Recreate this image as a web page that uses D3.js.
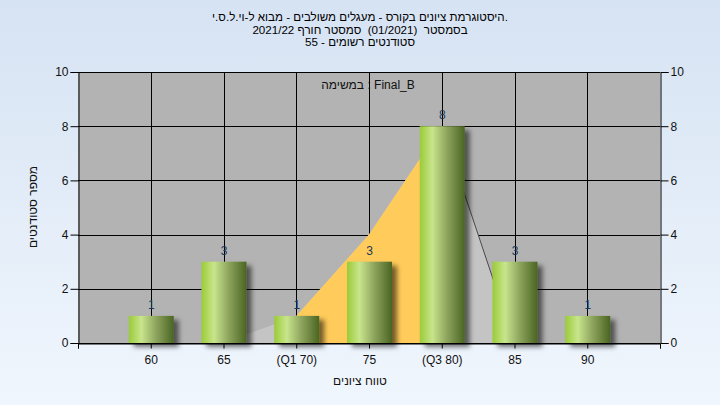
<!DOCTYPE html>
<html>
<head>
<meta charset="utf-8">
<script src="https://cdn.jsdelivr.net/npm/d3@7"></script>
<style>
  html, body { margin: 0; padding: 0; }
  body { width: 720px; height: 405px; overflow: hidden; }
  svg { display: block; }
  text { font-family: "Liberation Sans", Arial, sans-serif; white-space: pre; }
</style>
</head>
<body>
<svg id="chart" width="720" height="405"></svg>
<script>
// ---- data ----
const titleLines = [
  "היסטוגרמת ציונים בקורס - מעגלים משולבים - מבוא ל-וי.ל.ס.י.",
  "בסמסטר  (01/2021)  סמסטר חורף 2021/22",
  "סטודנטים רשומים - 55"
];
const legendLabel = "במשימה : Final_B";
const xTitle = "טווח ציונים";
const yTitle = "מספר סטודנטים";
const categories = ["60", "65", "(Q1 70)", "75", "(Q3 80)", "85", "90"];
const counts = [1, 3, 1, 3, 8, 3, 1];
const curveValues = [0, 0, 1, 4, 8, 0, 0];
const yTicks = [0, 2, 4, 6, 8, 10];
const q1Index = 2;
const q3Index = 4;

// ---- layout ----
const W = 720, H = 405;
const pLeft = 78, pRight = 660, pTop = 72, pBottom = 343;

const svg = d3.select("#chart");
const defs = svg.append("defs");

const bg = defs.append("linearGradient").attr("id", "bgGrad")
  .attr("x1", 0).attr("y1", 0).attr("x2", 0).attr("y2", 1);
bg.append("stop").attr("offset", "0%").attr("stop-color", "#d6e3f3");
bg.append("stop").attr("offset", "100%").attr("stop-color", "#f0f6fd");

const barGrad = defs.append("linearGradient").attr("id", "barGrad")
  .attr("x1", 0).attr("y1", 0).attr("x2", 1).attr("y2", 0);
[["0%", "#9acb38"], ["28%", "#c8e58c"], ["60%", "#8ea55e"], ["100%", "#4a6522"]]
  .forEach(([o, c]) => barGrad.append("stop").attr("offset", o).attr("stop-color", c));

const shadow = defs.append("filter").attr("id", "shadow")
  .attr("x", "-20%").attr("y", "-20%").attr("width", "160%").attr("height", "160%");
shadow.append("feDropShadow").attr("dx", 5).attr("dy", 4)
  .attr("stdDeviation", 2.5).attr("flood-color", "#000").attr("flood-opacity", 0.55);

svg.append("rect").attr("width", W).attr("height", H).attr("fill", "url(#bgGrad)");

const x = d3.scaleLinear().domain([-1, categories.length]).range([pLeft, pRight]);
const y = d3.scaleLinear().domain([0, 10]).range([pBottom, pTop]);

// plot background
svg.append("rect").attr("x", pLeft).attr("y", pTop)
  .attr("width", pRight - pLeft).attr("height", pBottom - pTop).attr("fill", "#b3b3b3");

// grid
const grid = svg.append("g").attr("stroke", "#000").attr("stroke-width", 1);
grid.selectAll("line.h").data(yTicks).join("line").attr("class", "h")
  .attr("x1", pLeft).attr("x2", pRight)
  .attr("y1", d => Math.round(y(d)) + 0.5).attr("y2", d => Math.round(y(d)) + 0.5);
grid.selectAll("line.v").data(categories).join("line").attr("class", "v")
  .attr("y1", pTop).attr("y2", pBottom)
  .attr("x1", (d, i) => Math.round(x(i)) + 0.5).attr("x2", (d, i) => Math.round(x(i)) + 0.5);

// distribution area
const area = d3.area().x((d, i) => x(i)).y0(y(0)).y1(d => y(d));
svg.append("path").datum(curveValues).attr("d", area).attr("fill", "#c4c4c4");
defs.append("clipPath").attr("id", "iqr").append("rect")
  .attr("x", x(q1Index)).attr("y", pTop)
  .attr("width", x(q3Index) - x(q1Index)).attr("height", pBottom - pTop);
svg.append("path").datum(curveValues).attr("d", area)
  .attr("fill", "#ffcb5a").attr("clip-path", "url(#iqr)");
// descending edge line
const peak = curveValues.indexOf(d3.max(curveValues));
const desc = [];
for (let i = peak; i < curveValues.length; i++) {
  desc.push([i, curveValues[i]]);
  if (curveValues[i] === 0) break;
}
svg.append("path").datum(desc)
  .attr("d", d3.line().x(d => x(d[0])).y(d => y(d[1])))
  .attr("fill", "none").attr("stroke", "#4a4a4a").attr("stroke-width", 1);

// axes
const fontSize = "12px";
const leftAxis = svg.append("g").attr("transform", `translate(${pLeft + 0.5},0)`)
  .call(d3.axisLeft(y).tickValues(yTicks).tickSize(8).tickPadding(2));
const rightAxis = svg.append("g").attr("transform", `translate(${pRight + 0.5},0)`)
  .call(d3.axisRight(y).tickValues(yTicks).tickSize(8).tickPadding(2));
const xTickVals = d3.range(-1, categories.length + 1);
const bottomAxis = svg.append("g").attr("transform", `translate(0,${pBottom + 0.5})`)
  .call(d3.axisBottom(x).tickValues(xTickVals).tickSize(5).tickPadding(7)
    .tickFormat(i => (i >= 0 && i < categories.length) ? categories[i] : ""));
[leftAxis, rightAxis, bottomAxis].forEach(g => {
  g.selectAll(".domain").attr("stroke", "#000");
  g.selectAll(".tick line").attr("stroke", "#000");
  g.selectAll("text").attr("font-size", fontSize).attr("fill", "#111")
    .attr("font-family", "Liberation Sans, Arial, sans-serif");
});

// bars
const barW = 45;
svg.append("g").selectAll("rect").data(counts).join("rect")
  .attr("x", (d, i) => x(i) - barW / 2 + 0.5)
  .attr("y", d => y(d))
  .attr("width", barW)
  .attr("height", d => y(0) - y(d))
  .attr("fill", "url(#barGrad)")
  .attr("filter", "url(#shadow)");

// value labels
svg.append("g").selectAll("text").data(counts).join("text")
  .attr("x", (d, i) => x(i) + 0.5)
  .attr("y", d => y(d) - 7)
  .attr("text-anchor", "middle")
  .attr("font-size", fontSize)
  .attr("fill", "#1c3a58")
  .text(d => d);

// titles
svg.append("g").selectAll("text").data(titleLines).join("text")
  .attr("x", 360).attr("y", (d, i) => 21 + i * 12.5)
  .attr("text-anchor", "middle").attr("font-size", "11.6px").attr("fill", "#000")
  .text(d => d);

svg.append("text").attr("x", 368).attr("y", 89)
  .attr("text-anchor", "middle").attr("font-size", fontSize).attr("fill", "#111")
  .text(legendLabel);

svg.append("text").attr("x", 360).attr("y", 385)
  .attr("text-anchor", "middle").attr("font-size", fontSize).attr("fill", "#111")
  .text(xTitle);

svg.append("text").attr("transform", "translate(37,207) rotate(-90)")
  .attr("text-anchor", "middle").attr("font-size", fontSize).attr("fill", "#111")
  .text(yTitle);
</script>
</body>
</html>
